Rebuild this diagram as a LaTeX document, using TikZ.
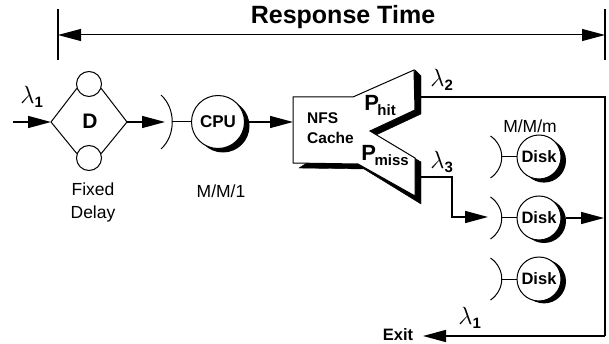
\documentclass[tikz,border=0pt]{standalone}
\usepackage{fontspec}
\setmainfont{Liberation Sans}
\usetikzlibrary{arrows.meta, positioning}

\newcommand{\queuearc}[2]{\draw[conn] ([shift={(-11,-#2)}]#1) .. controls ([shift={(4,-#2/2)}]#1) and ([shift={(4,#2/2)}]#1) .. ([shift={(-11,#2)}]#1);}
\newcommand{\lam}[1]{$\lambda_{\hbox{\fontsize{15}{15}\selectfont\bfseries #1}}$}
\newcommand{\prob}[1]{\fontsize{22}{22}\selectfont\bfseries P\kern-1.5pt\raisebox{-5pt}{\fontsize{15}{15}\selectfont #1}}

\begin{document}
\begin{tikzpicture}[
    x=1pt, y=-1pt,
    conn/.style={line width=1pt},
    arrow/.style={-{Triangle[length=23pt, width=12pt]}, line width=1.4pt},
    server/.style={circle, draw, line width=1pt, fill=white, inner sep=0pt},
    cpubox/.style={server, minimum size=53pt, font=\fontsize{17}{19}\selectfont\bfseries},
    diskbox/.style={server, minimum size=44pt, font=\fontsize{16.5}{18}\selectfont\bfseries},
    crescent/.style={circle, fill=black, inner sep=0pt},
    delay/.style={circle, draw, line width=1pt, fill=white, minimum size=25pt, inner sep=0pt},
    txt/.style={font=\fontsize{17.5}{23}\selectfont, align=center},
    lab/.style={font=\fontsize{27}{27}\selectfont, inner sep=0pt},
    node distance=34pt
]
    \useasboundingbox (0,0) rectangle (609,344);

    % Response time bar
    \coordinate (rtl) at (58,35);
    \coordinate (rtr) at (605,35);
    \draw[line width=1.2pt] (58,9) -- (58,60);
    \draw[line width=1.2pt] (605,9) -- (605,60);
    \draw[{Triangle[length=23pt, width=12pt]}-{Triangle[length=23pt, width=12pt]}, line width=1pt] (rtl) -- (rtr);
    \node[font=\fontsize{25}{27}\selectfont\bfseries] (rt) at (343,17) {Response Time};

    % Fixed delay
    \coordinate (in) at (13,122);
    \coordinate (dl) at (51,122);
    \coordinate (dr) at (127,122);
    \node[delay] (dtop) at (89,84) {};
    \node[delay, below=48pt of dtop] (dbot) {};
    \node[font=\fontsize{21}{23}\selectfont\bfseries] (d) at (90,121) {D};
    \draw[conn] (dl) -- (dtop.200) (dtop.-20) -- (dr);
    \draw[conn] (dl) -- (dbot.160) (dbot.20) -- (dr);
    \draw[arrow] (in) -- (dl);
    \node[lab] (l1in) at (32,97) {\lam{1}};
    \node[txt] (fixed) at (93,202) {Fixed\\Delay};

    % CPU
    \node[crescent, minimum size=53pt] (cpushade) at (223,126) {};
    \node[cpubox] (cpu) at (218,122) {CPU};
    \coordinate (qcpu) at (172,122);
    \queuearc{qcpu}{27}
    \draw[conn] (qcpu) -- (cpu);
    \coordinate (qcpuin) at (165,122);
    \draw[arrow] (dr) -- (qcpuin);
    \node[txt] (mm1) at (221,191) {M/M/1};

    % NFS cache
    \coordinate (cachein) at (293,122);
    \draw[fill=black, draw=black] (299,168) -- (364,169) -- (421,204) -- (421,162) -- (376,135) -- (421,114) -- (421,76) -- (415,70) -- (405,100) -- cycle;
    \draw[conn, fill=white] (293,97) -- (353,97) -- (414,70) -- (415,110) -- (370,131) -- (415,158) -- (415,196) -- (358,164) -- (293,163) -- cycle;
    \node[font=\fontsize{15.5}{20}\selectfont\bfseries, align=left, anchor=west, inner sep=0pt] (cache) at (307,128) {NFS\\Cache};
    \node[inner sep=0pt] (phit) at (380,106) {\prob{hit}};
    \node[inner sep=0pt] (pmiss) at (385,156) {\prob{miss}};
    \draw[arrow] ([xshift=4pt]cpu.east) -- (cachein);

    % Disks
    \node[crescent, minimum size=44pt] (shade2) at (544,221) {};
    \node[diskbox] (disk2) at (539,218) {Disk};
    \node[crescent, minimum size=44pt, above=16pt of shade2] (shade1) {};
    \node[diskbox, above=16pt of disk2] (disk1) {Disk};
    \node[crescent, minimum size=44pt, below=16pt of shade2] (shade3) {};
    \node[diskbox, below=16pt of disk2] (disk3) {Disk};
    \foreach \n in {1,2,3} {
        \coordinate (q\n) at ([xshift=-15pt]disk\n.west);
        \queuearc{q\n}{21}
        \draw[conn] (q\n) -- (disk\n);
    }
    \node[txt] (mmm) at (530,126) {M/M/m};

    % Flows
    \coordinate (hitout) at (421,97);
    \coordinate (corner) at (605,97);
    \coordinate (cornerb) at (605,336);
    \coordinate (exitin) at (423,336);
    \draw[line width=1.4pt] (hitout) -- (corner) -- (cornerb);
    \draw[arrow] (cornerb) -- (exitin);
    \node[lab] (l2) at (442,80) {\lam{2}};
    \node[lab] (l3) at (442,162) {\lam{3}};
    \node[lab] (l1out) at (470,318) {\lam{1}};
    \node[font=\fontsize{16.5}{18}\selectfont\bfseries, inner sep=0pt] (exit) at (398,335) {Exit};

    \coordinate (missout) at (421,177);
    \coordinate (missb) at (452,177);
    \coordinate (missc) at (452,217);
    \coordinate (q2in) at (488,217);
    \draw[arrow] (missout) -- (missb) -- (missc) -- (q2in);
    \coordinate (diskout) at (604,218);
    \draw[arrow] ([xshift=4pt]disk2.east) -- (diskout);
\end{tikzpicture}
\end{document}
